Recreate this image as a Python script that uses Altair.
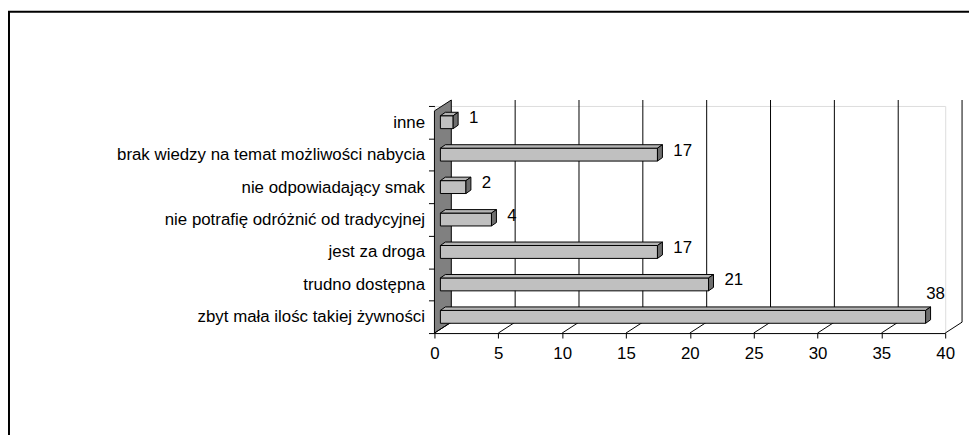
import altair as alt
import pandas as pd

# ---- data (bottom to top) ----
categories = [
    "zbyt mała ilośc takiej żywności",
    "trudno dostępna",
    "jest za droga",
    "nie potrafię odróżnić od tradycyjnej",
    "nie odpowiadający smak",
    "brak wiedzy na temat możliwości nabycia",
    "inne",
]
values = [38, 21, 17, 4, 2, 17, 1]
x_ticks = [0, 5, 10, 15, 20, 25, 30, 35, 40]

# ---- geometry (pixels -> data units) ----
W, H = 515, 229
XMAX = 40
NCAT = len(categories)
PX_X = W / XMAX
PX_Y = H / NCAT
DX = 17 / PX_X          # depth of the 3D box
DY = 11 / PX_Y
TOP = NCAT - 5 / PX_Y   # top of the walls (front)
SHIFT = 6 / PX_X        # bars sit a little inside the depth
BDX = 5 / PX_X          # bar depth
BDY = 3.5 / PX_Y
HALF = 6.5 / PX_Y       # half bar height

FONT = "Liberation Sans"
FS = 17

bars = pd.DataFrame({
    "name": categories,
    "value": values,
    "yc": [i + 0.5 for i in range(NCAT)],
})
bars["x0"] = SHIFT
bars["x1"] = bars["value"] + SHIFT
bars["yb"] = bars["yc"] - HALF
bars["yt"] = bars["yc"] + HALF

top_rows, side_rows = [], []
for r in bars.to_dict("records"):
    top_rows.append({"name": r["name"], "y": r["yt"], "xa": r["x0"], "xb": r["x1"]})
    top_rows.append({"name": r["name"], "y": r["yt"] + BDY, "xa": r["x0"] + BDX, "xb": r["x1"] + BDX})
    side_rows.append({"name": r["name"], "x": r["x1"], "ya": r["yb"], "yb": r["yt"]})
    side_rows.append({"name": r["name"], "x": r["x1"] + BDX, "ya": r["yb"] + BDY, "yb": r["yt"] + BDY})
top_df = pd.DataFrame(top_rows)
side_df = pd.DataFrame(side_rows)

wall_df = pd.DataFrame({"x": [0, DX], "ya": [0, DY], "yb": [TOP, TOP + DY]})
grid_df = pd.DataFrame({"x": [t + DX for t in x_ticks[1:]], "ya": DY, "yb": TOP + DY})
floor_df = pd.DataFrame({"x": x_ticks, "x2": [t + DX for t in x_ticks], "y": 0.0, "y2": DY})

xs = alt.Scale(domain=[0, XMAX], nice=False, zero=False)
ys = alt.Scale(domain=[0, NCAT], nice=False, zero=False)

label_expr = "[" + ",".join("'" + c + "'" for c in categories) + "][datum.value] || ''"

x_axis = alt.Axis(
    values=x_ticks, grid=False, domain=True, domainColor="black",
    ticks=True, tickColor="black", tickSize=5, labelFont=FONT,
    labelFontSize=FS, labelColor="black", labelPadding=8,
    labelFlush=False, title=None, zindex=1)
y_axis = alt.Axis(
    values=list(range(NCAT + 1)), grid=False, domain=False,
    ticks=True, tickColor="black", tickSize=6, labelFont=FONT,
    labelFontSize=FS, labelColor="black", labelPadding=4,
    labelExpr=label_expr, labelOffset=-PX_Y / 2, labelFlush=False,
    labelLimit=1000, labelBaseline="middle", title=None, zindex=1)


def X(field):
    return alt.X(field, scale=xs, axis=x_axis, title=None)


def Y(field):
    return alt.Y(field, scale=ys, axis=y_axis, title=None)


# frame of the chart area
frame = alt.Chart(pd.DataFrame({"a": [0]})).mark_rect(
    filled=False, stroke="black", strokeWidth=2
).encode(
    x=alt.value(-429), x2=alt.value(W + 300),
    y=alt.value(-95), y2=alt.value(H + 400),
)

wall = alt.Chart(wall_df).mark_area(
    fill="#808080", stroke="black", strokeWidth=1, orient="vertical"
).encode(x=X("x:Q"), y=Y("ya:Q"), y2="yb:Q")

grid = alt.Chart(grid_df).mark_rule(color="black", strokeWidth=1).encode(
    x=X("x:Q"), y=Y("ya:Q"), y2="yb:Q")

floor = alt.Chart(floor_df).mark_rule(color="black", strokeWidth=1).encode(
    x=X("x:Q"), x2="x2:Q", y=Y("y:Q"), y2="y2:Q")

front = alt.Chart(bars).mark_rect(
    fill="#c0c0c0", stroke="black", strokeWidth=1
).encode(x=X("x0:Q"), x2="x1:Q", y=Y("yb:Q"), y2="yt:Q")

top = alt.Chart(top_df).mark_area(
    fill="#b4b4b4", stroke="black", strokeWidth=1, orient="horizontal"
).encode(y=Y("y:Q"), x=X("xa:Q"), x2="xb:Q", detail="name:N")

side = alt.Chart(side_df).mark_area(
    fill="#6e6e6e", stroke="black", strokeWidth=1, orient="vertical"
).encode(x=X("x:Q"), y=Y("ya:Q"), y2="yb:Q", detail="name:N")

labels = alt.Chart(bars).transform_filter("datum.value < 35").mark_text(
    align="left", baseline="middle", dx=16, dy=-4, font=FONT, fontSize=FS, color="black"
).encode(x=X("x1:Q"), y=Y("yc:Q"), text="value:Q")

labels_top = alt.Chart(bars).transform_filter("datum.value >= 35").mark_text(
    align="center", baseline="middle", dx=10, dy=-23, font=FONT, fontSize=FS, color="black"
).encode(x=X("x1:Q"), y=Y("yc:Q"), text="value:Q")

chart = alt.layer(
    frame, wall, grid, floor, front, top, side, labels, labels_top
).properties(
    width=W, height=H,
    autosize=alt.AutoSizeParams(type="none"),
    padding={"left": 430, "top": 97, "right": 24, "bottom": 101},
).configure_view(stroke=None).configure(background="white")

chart.save("out.html", embed_options={"renderer": "svg", "actions": False})
